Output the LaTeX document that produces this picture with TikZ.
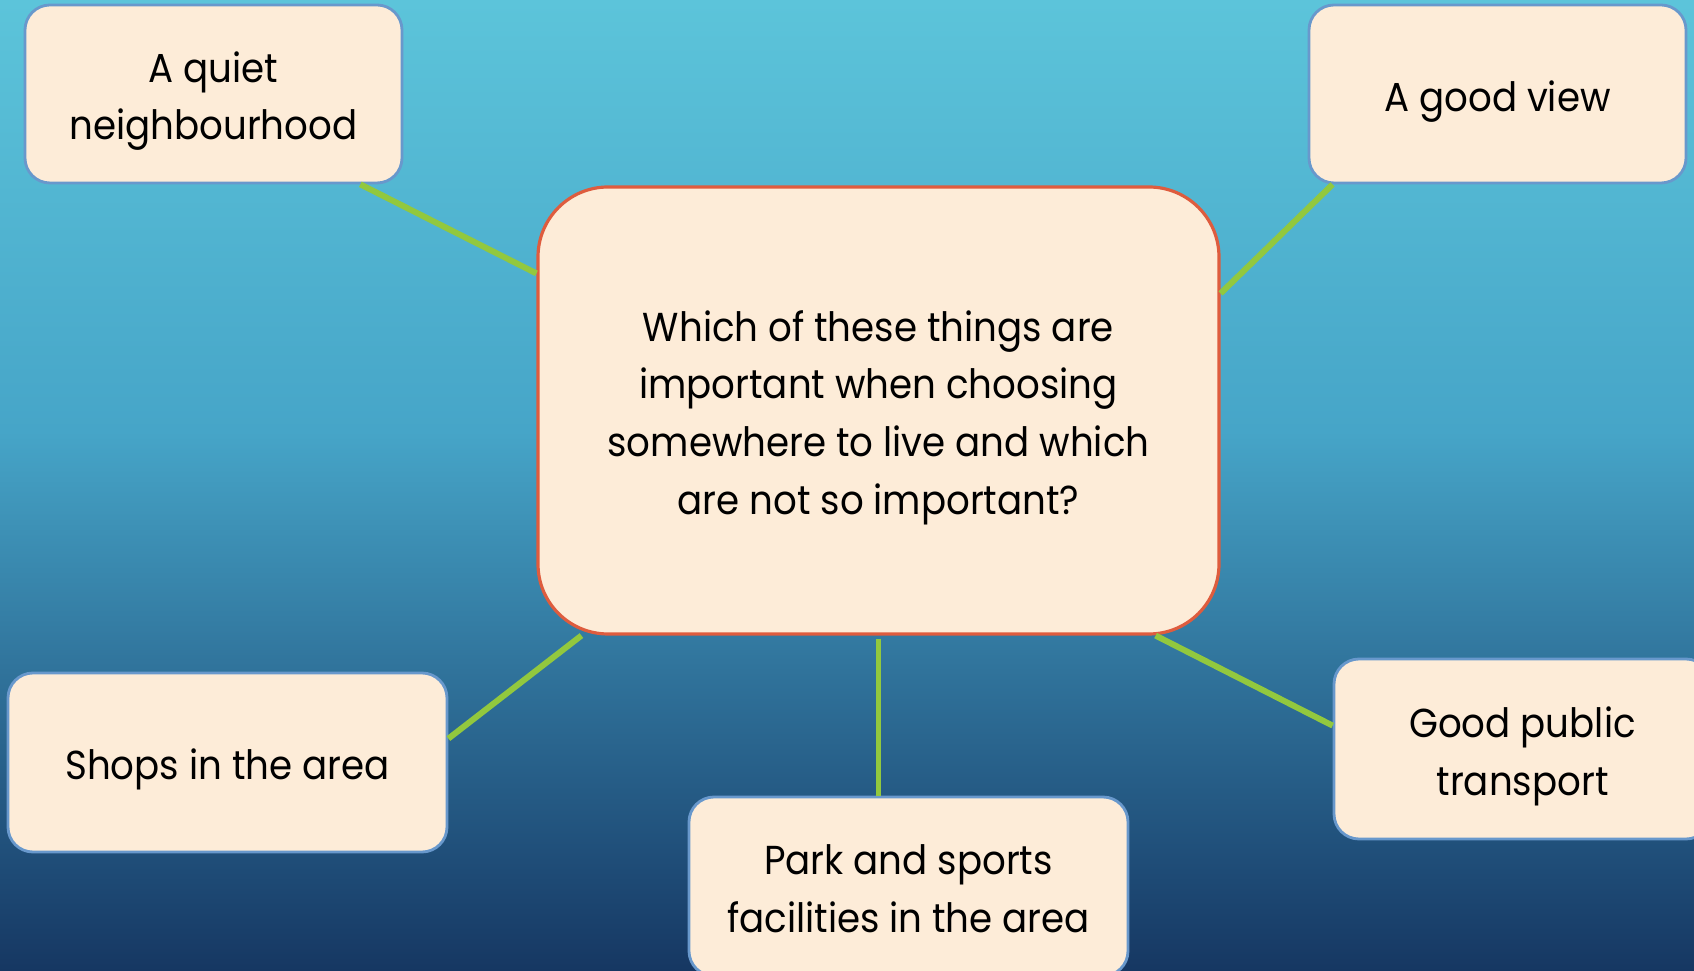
\documentclass[tikz,border=0pt]{standalone}
\usepackage{fontspec}
\setmainfont[FakeStretch=0.92]{Poppins}
\usetikzlibrary{positioning}

\definecolor{boxfill}{RGB}{253,236,216}
\definecolor{leafline}{RGB}{104,152,204}
\definecolor{hubline}{RGB}{222,92,62}
\definecolor{spoke}{RGB}{146,200,62}

% sky gradient, the path maps onto 25bp..75bp
\pgfdeclareverticalshading{sky}{100bp}{%
  rgb(0bp)=(0.086,0.216,0.384);
  rgb(25bp)=(0.086,0.216,0.384);
  rgb(30.15bp)=(0.118,0.294,0.463);
  rgb(40.45bp)=(0.188,0.451,0.608);
  rgb(52.8bp)=(0.275,0.647,0.784);
  rgb(75bp)=(0.361,0.769,0.855);
  rgb(100bp)=(0.361,0.769,0.855)}

\newcommand\topstrut{\rule{0pt}{12.8pt}}
\newcommand\botstrut{\rule[-3pt]{0pt}{3pt}}

\begin{document}
\begin{tikzpicture}
[
  leaf/.style={draw=leafline, fill=boxfill, line width=0.8pt, rounded corners=0.25cm,
    align=center, text=black, minimum width=3.77cm, minimum height=1.78cm, inner sep=0pt,
    execute at end node=\botstrut},
  hub/.style={draw=hubline, fill=boxfill, line width=0.9pt, rounded corners=0.7cm,
    align=center, text=black, minimum width=6.81cm, minimum height=4.47cm, inner sep=0pt,
    execute at end node=\botstrut},
  link/.style={draw=spoke, line width=1.7pt},
  font=\fontsize{11.5}{16.4}\selectfont
]
 \useasboundingbox (0,0) rectangle (16.94,-9.71);
 \clip (0,0) rectangle (16.94,-9.71);
 \shade[shading=sky] (0,0) rectangle (16.94,-9.71);

 \node[hub] (hub) at (8.785,-4.105) {\topstrut Which of these things are\\important when choosing\\somewhere to live and which\\are not so important?};

 \node[leaf] (quiet) at (2.135,-0.94) {\topstrut A quiet\\neighbourhood};
 \node[leaf] (view) at (14.975,-0.94) {\topstrut A good view};
 \node[leaf, minimum width=4.39cm, minimum height=1.79cm] (shops) at (2.275,-7.625) {\topstrut Shops in the area};
 \node[leaf, minimum height=1.80cm] (transport) at (15.225,-7.49) {\topstrut Good public\\transport};
 \node[leaf, minimum width=4.39cm, minimum height=1.79cm] (park) at (9.085,-8.865) {\topstrut Park and sports\\facilities in the area};

  % spokes from the question to each box
  \draw[link] ([xshift=-0.43cm]quiet.south east) -- ([yshift=-0.88cm]hub.north west);
  \draw[link] ([xshift=0.25cm]view.south west) -- ([yshift=-1.08cm]hub.north east);
  \draw[link] ([yshift=-0.67cm]shops.north east) -- ([xshift=0.45cm]hub.south west);
  \draw[link] ([xshift=-0.65cm]hub.south east) -- ([yshift=-0.68cm]transport.north west);
  \draw[link] ([yshift=-0.03cm]hub.south) -- (hub.south |- park.north);
\end{tikzpicture}
\end{document}
